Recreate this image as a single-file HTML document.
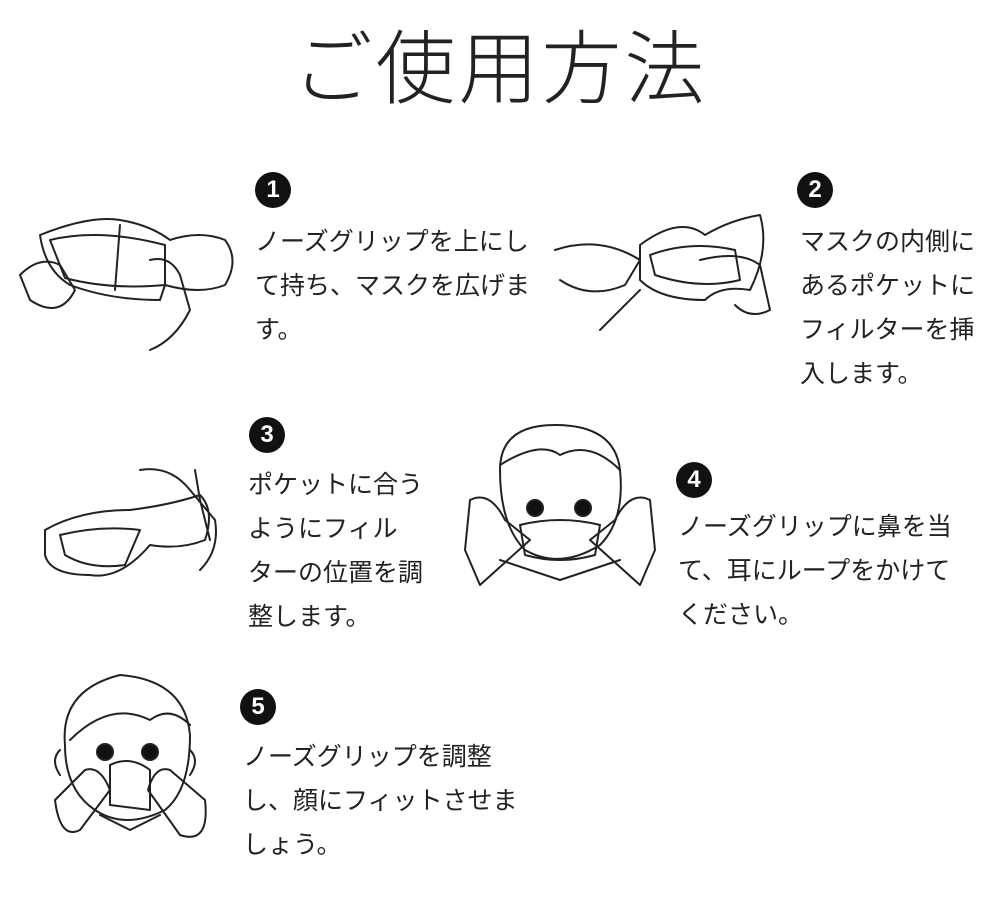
<!DOCTYPE html>
<html><head><meta charset="utf-8">
<style>
body{margin:0;background:#fff;}
.c{position:relative;width:1000px;height:903px;overflow:hidden;font-family:"Liberation Sans","Noto Sans CJK JP",sans-serif;color:#222;}
.t{position:absolute;left:0;width:1000px;top:20px;text-align:center;font-size:80px;font-weight:300;line-height:100px;letter-spacing:3px;}
.b{position:absolute;font-size:25px;line-height:44px;white-space:nowrap;font-weight:400;}
.n{position:absolute;width:36px;height:36px;border-radius:50%;background:#111;color:#fff;font-size:24px;font-weight:700;text-align:center;line-height:36px;}
svg{position:absolute;left:0;top:0;}
</style></head><body><div class="c">
<div class="t">ご使用方法</div>

<div class="n" style="left:255px;top:172px">1</div>
<div class="b" style="left:255px;top:220px">ノーズグリップを上にし<br>て持ち、マスクを広げま<br>す。</div>

<div class="n" style="left:797px;top:172px">2</div>
<div class="b" style="left:800px;top:220px">マスクの内側に<br>あるポケットに<br>フィルターを挿<br>入します。</div>

<div class="n" style="left:249px;top:417px">3</div>
<div class="b" style="left:248px;top:463px">ポケットに合う<br>ようにフィル<br>ターの位置を調<br>整します。</div>

<div class="n" style="left:676px;top:462px">4</div>
<div class="b" style="left:678px;top:505px">ノーズグリップに鼻を当<br>て、耳にループをかけて<br>ください。</div>

<div class="n" style="left:240px;top:689px">5</div>
<div class="b" style="left:243px;top:735px">ノーズグリップを調整<br>し、顔にフィットさせま<br>しょう。</div>

<svg width="1000" height="903" fill="none" stroke="#222" stroke-width="2" stroke-linejoin="round" stroke-linecap="round">
<path d="M40 235 Q90 215 120 220 Q150 225 170 240 Q200 230 225 240 Q240 260 225 285 Q200 295 165 285 L160 300 Q110 300 70 285 Q45 270 40 235Z"/>
<path d="M50 240 Q100 228 165 245 L165 285 Q110 290 65 278Z"/>
<path d="M120 225 L115 290"/>
<path d="M20 275 Q40 255 60 265 L75 290 Q60 320 30 300 Z"/>
<path d="M150 260 Q170 255 180 275 L190 310 Q175 340 150 350"/>
<path d="M640 245 Q680 215 705 235 Q730 220 760 215 Q770 250 750 290 Q720 285 705 300 Q660 300 640 280 Z"/>
<path d="M650 255 Q690 240 735 250 L740 280 Q700 290 655 275Z"/>
<path d="M555 250 Q600 235 640 260 L625 285 Q590 300 560 280"/>
<path d="M600 330 L640 290"/>
<path d="M700 260 Q740 250 760 265 L770 310 Q750 320 735 305"/>
<path d="M45 530 Q80 510 130 510 Q170 505 200 495 Q215 510 205 540 Q180 550 150 545 Q120 580 90 575 Q50 575 45 555 Z"/>
<path d="M60 535 Q100 525 140 530 L125 565 Q90 570 65 555Z"/>
<path d="M140 470 Q170 465 190 490 L215 520 Q220 550 200 570"/>
<path d="M195 470 L200 500 L210 540"/>
<path d="M500 470 Q500 425 555 425 Q615 425 620 470 Q625 520 600 545 Q560 570 525 550 Q500 525 500 470Z"/>
<path d="M500 465 Q540 440 560 455 Q590 440 620 470"/>
<circle cx="535" cy="508" r="8" fill="#111"/>
<circle cx="583" cy="508" r="8" fill="#111"/>
<path d="M520 525 Q560 515 600 525 L595 555 Q560 565 525 555Z"/>
<path d="M470 500 Q490 490 505 520 L530 540 L480 585 L465 550Z"/>
<path d="M650 500 Q630 490 615 520 L590 540 L640 585 L655 550Z"/>
<path d="M500 560 L560 580 L620 560"/>
<path d="M65 745 Q60 690 120 675 Q185 680 190 735 Q190 790 165 810 Q125 830 95 810 Q65 790 65 745Z"/>
<path d="M70 740 Q110 700 150 720 Q170 705 190 725"/>
<circle cx="105" cy="752" r="8" fill="#111"/>
<circle cx="150" cy="752" r="8" fill="#111"/>
<path d="M110 765 Q130 755 150 770 L150 810 L110 805Z"/>
<path d="M60 750 Q50 760 60 775"/><path d="M190 750 Q200 760 190 775"/>
<path d="M85 770 Q100 765 110 790 L80 830 Q60 840 55 800Z"/>
<path d="M170 770 Q155 765 148 790 L180 835 Q210 845 205 800Z"/>
<path d="M100 815 L130 830 L160 815"/>
</svg>
</div></body></html>
